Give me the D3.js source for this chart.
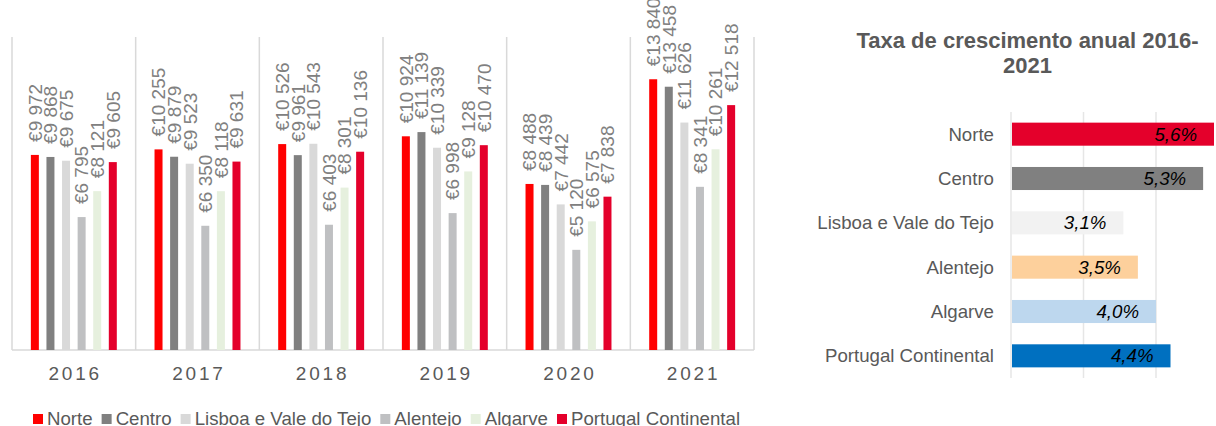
<!DOCTYPE html>
<html>
<head>
<meta charset="utf-8">
<script src="https://cdn.jsdelivr.net/npm/d3@7/dist/d3.min.js"></script>
<style>
  html, body { margin: 0; padding: 0; background: #fff; }
  svg { display: block; font-family: "Liberation Sans", Arial, sans-serif; }
</style>
</head>
<body>
<svg id="chart" width="1216" height="426"></svg>
<script>
// ---- Data ----
const years = ["2016", "2017", "2018", "2019", "2020", "2021"];
const regions = ["Norte", "Centro", "Lisboa e Vale do Tejo", "Alentejo", "Algarve", "Portugal Continental"];
const norte    = [9972, 10255, 10526, 10924, 8488, 13840];
const centro   = [9868, 9879, 9961, 11139, 8439, 13458];
const lisboa   = [9675, 9523, 10543, 10339, 7442, 11626];
const alentejo = [6795, 6350, 6403, 6998, 5120, 8341];
const algarve  = [8121, 8118, 8301, 9128, 6575, 10261];
const portugal = [9605, 9631, 10136, 10470, 7838, 12518];
const seriesValues = [norte, centro, lisboa, alentejo, algarve, portugal];

const growthTitle = ["Taxa de crescimento anual 2016-", "2021"];
const growthCategories = ["Norte", "Centro", "Lisboa e Vale do Tejo", "Alentejo", "Algarve", "Portugal Continental"];
const growthValues = [0.056, 0.053, 0.031, 0.035, 0.040, 0.044];
const growthTicks = [0, 0.02, 0.04, 0.06];

// ---- Styles ----
const leftColors = ["#FF0000", "#808080", "#D9D9D9", "#BFC0C2", "#E6F0DE", "#E4002B"];
const rightColors = ["#E4002B", "#808080", "#F2F2F2", "#FDD09C", "#BDD7EE", "#0070C0"];

const svg = d3.select("#chart");
const fmtEuro = v => "€" + d3.format(",")(v).replace(/,/g, " ");
const fmtPct = v => d3.format(".1f")(v * 100).replace(".", ",") + "%";

// ---- Left chart ----
const x0 = d3.scaleBand().domain(years).range([12, 754]).paddingInner(0).paddingOuter(0);
const x1 = d3.scaleBand().domain(regions).range([0, x0.bandwidth()]).paddingInner(0.487).paddingOuter(1.21);
const y = d3.scaleLinear().domain([0, 16000]).range([350, 37]);

const left = svg.append("g");
const bounds = years.map(d => x0(d)).concat([x0(years[years.length - 1]) + x0.bandwidth()]);
left.selectAll("line.sep").data(bounds).join("line")
  .attr("x1", d => d).attr("x2", d => d)
  .attr("y1", y(16000)).attr("y2", y(0))
  .attr("stroke", "#D9D9D9").attr("stroke-width", 1.5);
left.append("line")
  .attr("x1", x0.range()[0]).attr("x2", x0.range()[1])
  .attr("y1", y(0)).attr("y2", y(0))
  .attr("stroke", "#D9D9D9").attr("stroke-width", 1.5);

const groups = left.selectAll("g.yr").data(years).join("g")
  .attr("transform", d => `translate(${x0(d)},0)`);

groups.each(function(yr, yi) {
  const g = d3.select(this);
  const data = regions.map((r, ri) => ({ r, ri, v: seriesValues[ri][yi] }));
  g.selectAll("rect").data(data).join("rect")
    .attr("x", d => x1(d.r))
    .attr("width", x1.bandwidth())
    .attr("y", d => y(d.v))
    .attr("height", d => y(0) - y(d.v))
    .attr("fill", d => leftColors[d.ri]);
  g.selectAll("text.lbl").data(data).join("text")
    .attr("class", "lbl")
    .attr("transform", d => `translate(${x1(d.r) + x1.bandwidth() / 2},${y(d.v) - 13}) rotate(-90)`)
    .attr("dy", "0.36em")
    .attr("text-anchor", "start")
    .attr("font-size", 19)
    .attr("fill", "#808080")
    .text(d => fmtEuro(d.v));
});

left.selectAll("text.year").data(years).join("text")
  .attr("class", "year")
  .attr("x", d => x0(d) + x0.bandwidth() / 2 + 1.4)
  .attr("y", 380)
  .attr("text-anchor", "middle")
  .attr("font-size", 19)
  .attr("letter-spacing", "2.8px")
  .attr("fill", "#595959")
  .text(d => d);

// legend
const legend = svg.append("g");
let lx = 33;
regions.forEach((r, i) => {
  legend.append("rect").attr("x", lx).attr("y", 414).attr("width", 10).attr("height", 10).attr("fill", leftColors[i]);
  const t = legend.append("text").attr("x", lx + 14).attr("y", 425)
    .attr("font-size", 18.67).attr("fill", "#595959").text(r);
  lx = lx + 14 + t.node().getComputedTextLength() + 9;
});

// ---- Right chart ----
const right = svg.append("g");
right.selectAll("text.title").data(growthTitle).join("text")
  .attr("x", 1027.5)
  .attr("y", (d, i) => 48 + i * 25)
  .attr("text-anchor", "middle")
  .attr("font-size", 22)
  .attr("font-weight", "bold")
  .attr("fill", "#595959")
  .text(d => d);

const xr = d3.scaleLinear().domain([0, 0.06]).range([1011, 1228.5]);
const yr = d3.scaleBand().domain(growthCategories).range([112, 378]).paddingInner(0.48).paddingOuter(0.24);

right.selectAll("line.grid").data(growthTicks).join("line")
  .attr("x1", d => xr(d)).attr("x2", d => xr(d))
  .attr("y1", 112).attr("y2", 378)
  .attr("stroke", "#E6E6E6").attr("stroke-width", 1.5);

const rdata = growthCategories.map((c, i) => ({ c, i, v: growthValues[i] }));
right.selectAll("rect").data(rdata).join("rect")
  .attr("x", xr(0) + 1)
  .attr("y", d => yr(d.c))
  .attr("width", d => xr(d.v) - xr(0) - 1)
  .attr("height", yr.bandwidth())
  .attr("fill", d => rightColors[d.i]);

right.selectAll("text.cat").data(rdata).join("text")
  .attr("x", 994)
  .attr("y", d => yr(d.c) + yr.bandwidth() / 2)
  .attr("dy", "0.35em")
  .attr("text-anchor", "end")
  .attr("font-size", 18.67)
  .attr("fill", "#595959")
  .text(d => d.c);

right.selectAll("text.val").data(rdata).join("text")
  .attr("x", d => xr(d.v) - 17)
  .attr("y", d => yr(d.c) + yr.bandwidth() / 2)
  .attr("dy", "0.35em")
  .attr("text-anchor", "end")
  .attr("font-size", 18.67)
  .attr("font-style", "italic")
  .attr("fill", "#000")
  .text(d => fmtPct(d.v));
</script>
</body>
</html>
